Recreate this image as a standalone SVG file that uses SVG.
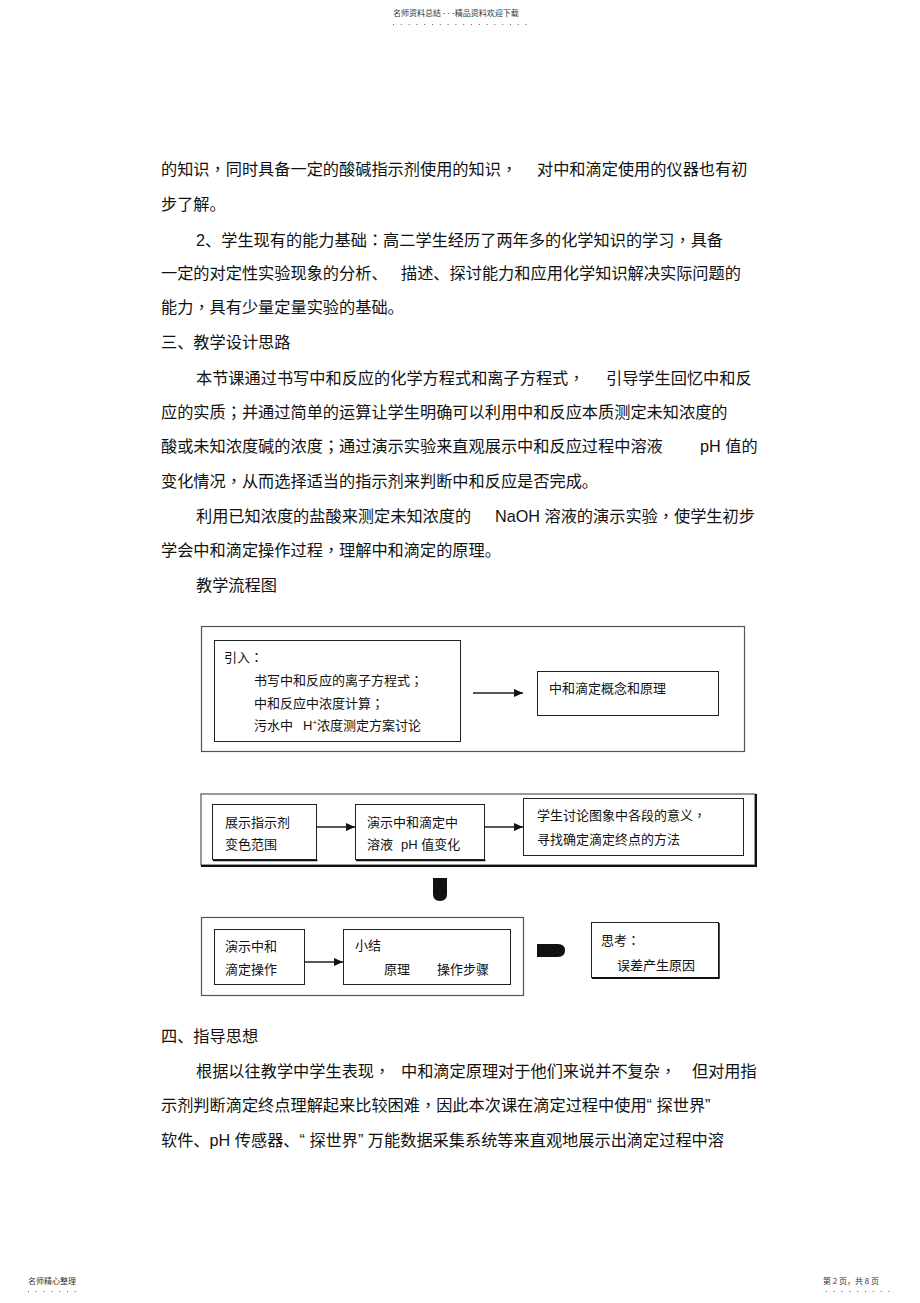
<svg xmlns="http://www.w3.org/2000/svg" width="920" height="1303" viewBox="0 0 920 1303">
<style>
.b{font-family:"Liberation Sans","Noto Sans CJK SC",sans-serif;font-size:16.2px;fill:#111}
.f{font-family:"Liberation Sans","Noto Sans CJK SC",sans-serif;font-size:13px;fill:#111}
.s{font-family:"Noto Sans CJK SC",sans-serif;font-size:8px;fill:#333}
.p{font-family:"Noto Sans CJK TC",sans-serif}
.bx{fill:none;stroke:#222;stroke-width:1}
.ob{fill:none;stroke:#555;stroke-width:1.2}
.ln{stroke:#222;stroke-width:1.3;fill:none}
.dots{stroke:#666;stroke-width:1;stroke-dasharray:1 6.8}
</style>
<defs>
<marker id="ah" markerWidth="10" markerHeight="8" refX="9" refY="4" orient="auto" markerUnits="userSpaceOnUse">
<path d="M0,0 L9,4 L0,8 Z" fill="#111"/>
</marker>
</defs>
<rect width="920" height="1303" fill="#fff"/>

<g id="header">
<text class="s" x="393" y="16">名师资料总结 - - -精品资料欢迎下载</text>
<line class="dots" x1="393" y1="24.5" x2="528" y2="24.5"/>
</g>

<g id="body-top">
<text class="b" x="161" y="175">的知识<tspan class="p">，</tspan>同时具备一定的酸碱指示剂使用的知识<tspan class="p">，</tspan></text>
<text class="b" x="537" y="175">对中和滴定使用的仪器也有初</text>
<text class="b" x="161" y="210">步了解。</text>
<text class="b" x="196" y="246">2、学生现有的能力基础<tspan class="p">：</tspan>高二学生经历了两年多的化学知识的学习<tspan class="p">，</tspan>具备</text>
<text class="b" x="161" y="279">一定的对定性实验现象的分析、</text>
<text class="b" x="401" y="279">描述、探讨能力和应用化学知识解决实际问题的</text>
<text class="b" x="161" y="313">能力<tspan class="p">，</tspan>具有少量定量实验的基础。</text>
<text class="b" x="161" y="348">三、教学设计思路</text>
<text class="b" x="196" y="384">本节课通过书写中和反应的化学方程式和离子方程式<tspan class="p">，</tspan></text>
<text class="b" x="606" y="384">引导学生回忆中和反</text>
<text class="b" x="161" y="418">应的实质<tspan class="p">；</tspan>并通过简单的运算让学生明确可以利用中和反应本质测定未知浓度的</text>
<text class="b" x="161" y="452">酸或未知浓度碱的浓度<tspan class="p">；</tspan>通过演示实验来直观展示中和反应过程中溶液</text>
<text class="b" x="700" y="452">pH 值的</text>
<text class="b" x="161" y="487">变化情况<tspan class="p">，</tspan>从而选择适当的指示剂来判断中和反应是否完成。</text>
<text class="b" x="196" y="522">利用已知浓度的盐酸来测定未知浓度的</text>
<text class="b" x="495" y="522">NaOH 溶液的演示实验<tspan class="p">，</tspan>使学生初步</text>
<text class="b" x="161" y="556">学会中和滴定操作过程<tspan class="p">，</tspan>理解中和滴定的原理。</text>
<text class="b" x="196" y="591">教学流程图</text>
</g>

<g id="frame1">
<rect class="ob" x="201.5" y="626.5" width="543" height="125"/>
</g>
<g id="node-intro">
<rect class="bx" x="214.5" y="640.5" width="246" height="101"/>
<text class="f" x="224" y="662">引入<tspan class="p">：</tspan></text>
<text class="f" x="254" y="685">书写中和反应的离子方程式<tspan class="p">；</tspan></text>
<text class="f" x="254" y="708">中和反应中浓度计算<tspan class="p">；</tspan></text>
<text class="f" x="254" y="730">污水中</text>
<text class="f" x="303" y="730">H<tspan font-size="8" dy="-5">+</tspan><tspan dy="5">浓度测定方案讨论</tspan></text>
</g>
<g id="node-concept">
<rect class="bx" x="537.5" y="671.5" width="181" height="44"/>
<text class="f" x="549" y="693">中和滴定概念和原理</text>
</g>

<g id="frame2">
<rect class="ob" x="201" y="794" width="554" height="71"/>
<line stroke="#111" stroke-width="2" x1="201" y1="866" x2="756" y2="866"/>
<line stroke="#111" stroke-width="2" x1="756" y1="794" x2="756" y2="867"/>
</g>
<g id="node-indicator">
<rect class="bx" x="212.5" y="804.5" width="104" height="55"/>
<line stroke="#111" stroke-width="1.5" x1="213" y1="860.5" x2="317.5" y2="860.5"/>
<text class="f" x="225" y="827">展示指示剂</text>
<text class="f" x="225" y="849">变色范围</text>
</g>
<g id="node-demo-ph">
<rect class="bx" x="355.5" y="804.5" width="129" height="55"/>
<line stroke="#111" stroke-width="1.5" x1="356" y1="860.5" x2="485.5" y2="860.5"/>
<text class="f" x="367" y="827">演示中和滴定中</text>
<text class="f" x="367" y="849">溶液</text>
<text class="f" x="401" y="849">pH 值变化</text>
</g>
<g id="node-discuss">
<rect class="bx" x="523.5" y="798.5" width="220" height="57"/>
<text class="f" x="537" y="820">学生讨论图象中各段的意义<tspan class="p">，</tspan></text>
<text class="f" x="537" y="844">寻找确定滴定终点的方法</text>
</g>

<g id="frame3">
<rect class="ob" x="201.5" y="917.5" width="322" height="78"/>
</g>
<g id="node-demo-op">
<rect class="bx" x="214.5" y="929.5" width="90" height="55"/>
<text class="f" x="225" y="951">演示中和</text>
<text class="f" x="225" y="974">滴定操作</text>
</g>
<g id="node-summary">
<rect class="bx" x="343.5" y="929.5" width="167" height="55"/>
<text class="f" x="355" y="950">小结</text>
<text class="f" x="384" y="974">原理</text>
<text class="f" x="437" y="974">操作步骤</text>
</g>
<g id="node-think">
<rect class="bx" x="591.5" y="922.5" width="127" height="55"/>
<line stroke="#111" stroke-width="1.8" x1="592" y1="978" x2="719.5" y2="978"/>
<line stroke="#111" stroke-width="1.5" x1="719" y1="923" x2="719" y2="978.5"/>
<text class="f" x="601" y="945">思考<tspan class="p">：</tspan></text>
<text class="f" x="617" y="970">误差产生原因</text>
</g>

<g id="connectors">
<line class="ln" x1="473" y1="693" x2="523" y2="693" marker-end="url(#ah)"/>
<line class="ln" x1="317" y1="827" x2="355" y2="827" marker-end="url(#ah)"/>
<line class="ln" x1="485" y1="827" x2="523" y2="827" marker-end="url(#ah)"/>
<line class="ln" x1="305" y1="962" x2="343" y2="962" marker-end="url(#ah)"/>
<path d="M433,878 H447 V894 Q447,901 440,901 Q433,901 433,894 Z" fill="#111"/>
<path d="M537,944 H558 Q565,944 565,950.5 Q565,957 558,957 H537 Z" fill="#111"/>
</g>

<g id="body-bottom">
<text class="b" x="161" y="1042">四、指导思想</text>
<text class="b" x="196" y="1077">根据以往教学中学生表现<tspan class="p">，</tspan></text>
<text class="b" x="401" y="1077">中和滴定原理对于他们来说并不复杂<tspan class="p">，</tspan></text>
<text class="b" x="692" y="1077">但对用指</text>
<text class="b" x="161" y="1111">示剂判断滴定终点理解起来比较困难<tspan class="p">，</tspan>因此本次课在滴定过程中使用“ 探世界”</text>
<text class="b" x="161" y="1146">软件、pH 传感器、“ 探世界” 万能数据采集系统等来直观地展示出滴定过程中溶</text>
</g>

<g id="footer">
<text class="s" x="28" y="1284">名师精心整理</text>
<line class="dots" x1="28" y1="1291.5" x2="76" y2="1291.5"/>
<text class="s" x="823" y="1284">第 2 页，共 8 页</text>
<line class="dots" x1="826" y1="1291.5" x2="893" y2="1291.5"/>
</g>
</svg>
